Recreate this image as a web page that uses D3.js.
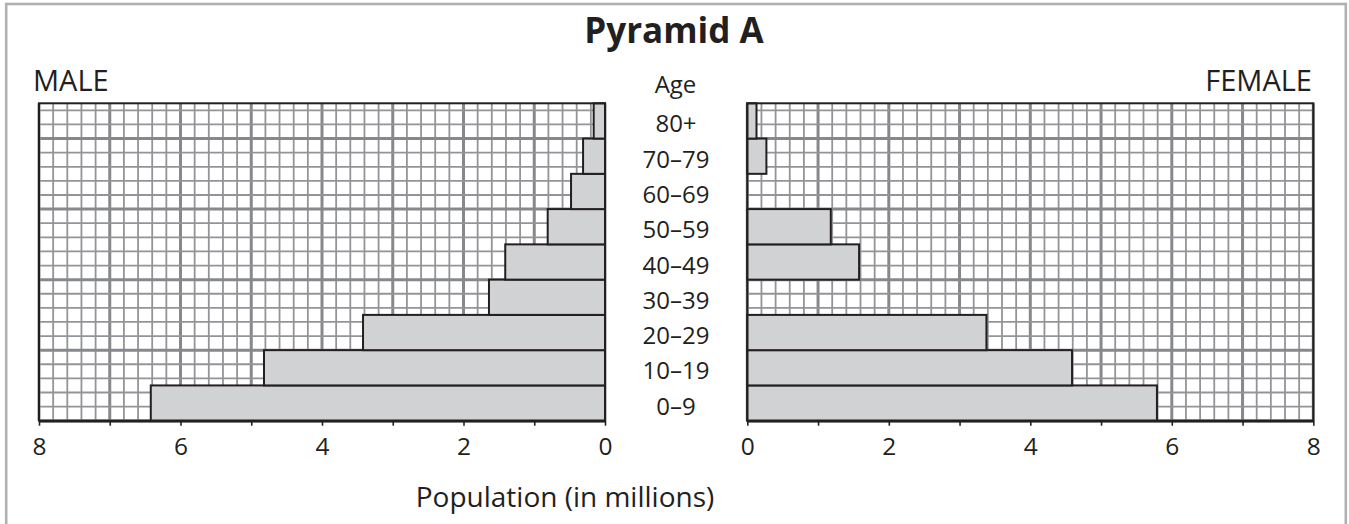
<!DOCTYPE html>
<html>
<head>
<meta charset="utf-8">
<title>Pyramid A</title>
<style>
  body { margin: 0; background: #fff; }
  svg text { font-family: "Open Sans", "Noto Sans", sans-serif; fill: #231f20; }
</style>
</head>
<body>
<script src="https://d3js.org/d3.v7.min.js"></script>
<script>
// age groups, bottom to top
var ages = ["0–9", "10–19", "20–29", "30–39", "40–49", "50–59", "60–69", "70–79", "80+"];
// population in millions
var male = [6.42, 4.82, 3.42, 1.64, 1.41, 0.81, 0.48, 0.31, 0.16];
var female = [5.79, 4.59, 3.38, 0, 1.58, 1.18, 0, 0.27, 0.13];
var tickValues = [0, 1, 2, 3, 4, 5, 6, 7, 8];
var tickLabels = [0, 2, 4, 6, 8];

var W = 1349, H = 524;
// plot area (note: "top" is taken by window.top)
var plotTop = 103.3, plotBottom = 420.7;

var svg = d3.select("body").append("svg")
    .attr("width", W)
    .attr("height", H);

// outer frame
svg.append("rect")
    .attr("x", 6.2).attr("y", 4)
    .attr("width", 1339.6).attr("height", H + 10)
    .attr("fill", "none")
    .attr("stroke", "#b1b1b3")
    .attr("stroke-width", 2.6);

var y = d3.scaleBand()
    .domain(ages.slice().reverse())
    .range([plotTop, plotBottom])
    .padding(0);

// y in "rows" for the graph paper lines
var yRows = d3.scaleLinear().domain([0, ages.length]).range([plotBottom, plotTop]);

var xMale = d3.scaleLinear().domain([8, 0]).range([39, 605]);
var xFemale = d3.scaleLinear().domain([0, 8]).range([747.3, 1313.3]);

function drawPanel(x, values, side) {
    var g = svg.append("g").attr("class", side);
    var x0 = Math.min(x.range()[0], x.range()[1]);
    var x1 = Math.max(x.range()[0], x.range()[1]);

    // vertical grid lines, every 0.2
    var vx = d3.range(0, 41).map(function(k) { return k / 5; });
    g.selectAll(".vgrid")
        .data(vx)
        .enter().append("line")
        .attr("x1", function(d) { return x(d); })
        .attr("x2", function(d) { return x(d); })
        .attr("y1", plotTop).attr("y2", plotBottom)
        .attr("stroke", function(d, i) { return i % 5 == 0 ? "#87888b" : "#939497"; })
        .attr("stroke-width", function(d, i) { return i % 5 == 0 ? 3 : 1.8; });

    // horizontal grid lines, every 0.4 rows
    var hy = d3.range(0, 23).map(function(k) { return k * 0.4; });
    g.selectAll(".hgrid")
        .data(hy)
        .enter().append("line")
        .attr("x1", x0).attr("x2", x1)
        .attr("y1", function(d) { return yRows(d); })
        .attr("y2", function(d) { return yRows(d); })
        .attr("stroke", function(d, i) { return i % 5 == 0 ? "#87888b" : "#939497"; })
        .attr("stroke-width", function(d, i) { return i % 5 == 0 ? 3 : 1.8; });

    // bars
    g.selectAll(".bar")
        .data(values.map(function(v, i) { return {age: ages[i], v: v}; })
                    .filter(function(d) { return d.v > 0; }))
        .enter().append("rect")
        .attr("x", function(d) { return Math.min(x(0), x(d.v)); })
        .attr("width", function(d) { return Math.abs(x(d.v) - x(0)); })
        .attr("y", function(d) { return y(d.age); })
        .attr("height", y.bandwidth())
        .attr("fill", "#d1d2d4")
        .attr("stroke", "#231f20")
        .attr("stroke-width", 2);

    // panel border
    g.append("rect")
        .attr("x", x0).attr("y", plotTop)
        .attr("width", x1 - x0).attr("height", plotBottom - plotTop)
        .attr("fill", "none")
        .attr("stroke", "#231f20")
        .attr("stroke-width", 2);

    // axis
    var axis = g.append("g")
        .attr("transform", "translate(0," + plotBottom + ")")
        .call(d3.axisBottom(x)
            .tickValues(tickValues)
            .tickSize(5)
            .tickSizeOuter(0)
            .tickPadding(12)
            .tickFormat(function(d) { return tickLabels.indexOf(d) >= 0 ? d : ""; }));
    axis.select(".domain").attr("stroke", "#231f20").attr("stroke-width", 2.4);
    axis.selectAll(".tick line").attr("stroke", "#231f20").attr("stroke-width", 1.6);
    axis.selectAll(".tick text")
        .style("font-family", "'Open Sans', sans-serif")
        .style("font-size", "24.5px")
        .attr("fill", "#231f20");
}

drawPanel(xMale, male, "male");
drawPanel(xFemale, female, "female");

// age labels
svg.selectAll(".age")
    .data(ages)
    .enter().append("text")
    .attr("x", 676)
    .attr("y", function(d) { return y(d) + y.bandwidth() / 2 + 11.5; })
    .attr("text-anchor", "middle")
    .style("font-size", "24px")
    .text(function(d) { return d; });

svg.append("text")
    .attr("x", 675.5).attr("y", 93.3)
    .attr("text-anchor", "middle")
    .style("font-size", "24px")
    .text("Age");

svg.append("text")
    .attr("x", 33).attr("y", 90.7)
    .style("font-size", "29px")
    .text("MALE");

svg.append("text")
    .attr("x", 1312).attr("y", 90.7)
    .attr("text-anchor", "end")
    .style("font-size", "29px")
    .text("FEMALE");

svg.append("text")
    .attr("x", 674).attr("y", 43)
    .attr("text-anchor", "middle")
    .style("font-size", "35px")
    .style("font-weight", "bold")
    .text("Pyramid A");

svg.append("text")
    .attr("x", 565).attr("y", 507)
    .attr("text-anchor", "middle")
    .style("font-size", "28px")
    .text("Population (in millions)");
</script>
</body>
</html>
